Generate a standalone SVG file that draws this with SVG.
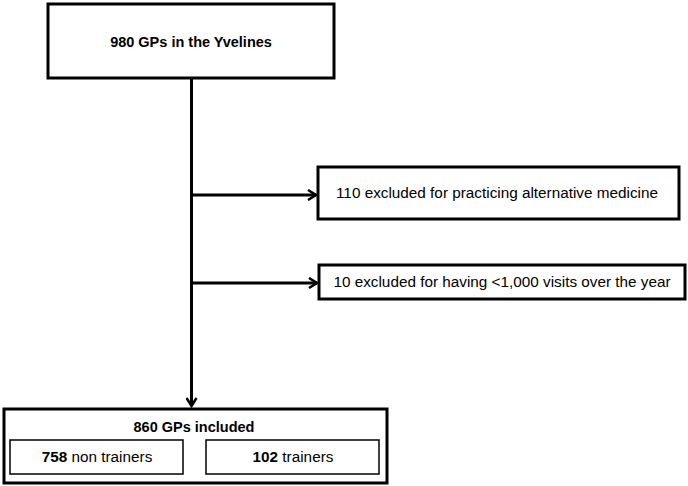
<svg xmlns="http://www.w3.org/2000/svg" width="688" height="486" viewBox="0 0 688 486">
<defs>
<style>
.box{fill:#fff;stroke:#000;stroke-width:3}
.inner{fill:#fff;stroke:#000;stroke-width:1.5}
.t{font-family:"Liberation Sans",Arial,sans-serif;font-size:15.3px;fill:#000;text-anchor:middle}
.h{font-size:14.5px;font-weight:bold}
.b{font-weight:bold}
.c{fill:none;stroke:#000;stroke-width:3}
</style>
<marker id="ah" viewBox="0 0 12 12" refX="10" refY="6" markerWidth="12" markerHeight="12" markerUnits="userSpaceOnUse" orient="auto">
<path d="M2,1 L10,6 L2,11" fill="none" stroke="#000" stroke-width="2.5"/>
</marker>
</defs>
<g id="connectors">
<line class="c" x1="191.5" y1="78" x2="191.5" y2="406" marker-end="url(#ah)"/>
<line class="c" x1="191.5" y1="195" x2="316" y2="195" marker-end="url(#ah)"/>
<line class="c" x1="191.5" y1="283" x2="317" y2="283" marker-end="url(#ah)"/>
</g>
<g id="n-top">
<rect class="box" x="48" y="4" width="286" height="74"/>
<text class="t h" x="191" y="47">980 GPs in the Yvelines</text>
</g>
<g id="n-ex1">
<rect class="box" x="318" y="167" width="361" height="52"/>
<text class="t" x="497" y="198">110 excluded for practicing alternative medicine</text>
</g>
<g id="n-ex2">
<rect class="box" x="319" y="265" width="366" height="34"/>
<text class="t" x="502" y="287">10 excluded for having &lt;1,000 visits over the year</text>
</g>
<g id="n-included">
<rect class="box" x="4" y="409" width="383" height="74"/>
<text class="t h" x="194" y="432">860 GPs included</text>
</g>
<g id="n-nontrainers">
<rect class="inner" x="10" y="440" width="173" height="34"/>
<text class="t" x="97" y="462"><tspan class="b">758</tspan> non trainers</text>
</g>
<g id="n-trainers">
<rect class="inner" x="206" y="440" width="173" height="34"/>
<text class="t" x="293" y="462"><tspan class="b">102</tspan> trainers</text>
</g>
</svg>
